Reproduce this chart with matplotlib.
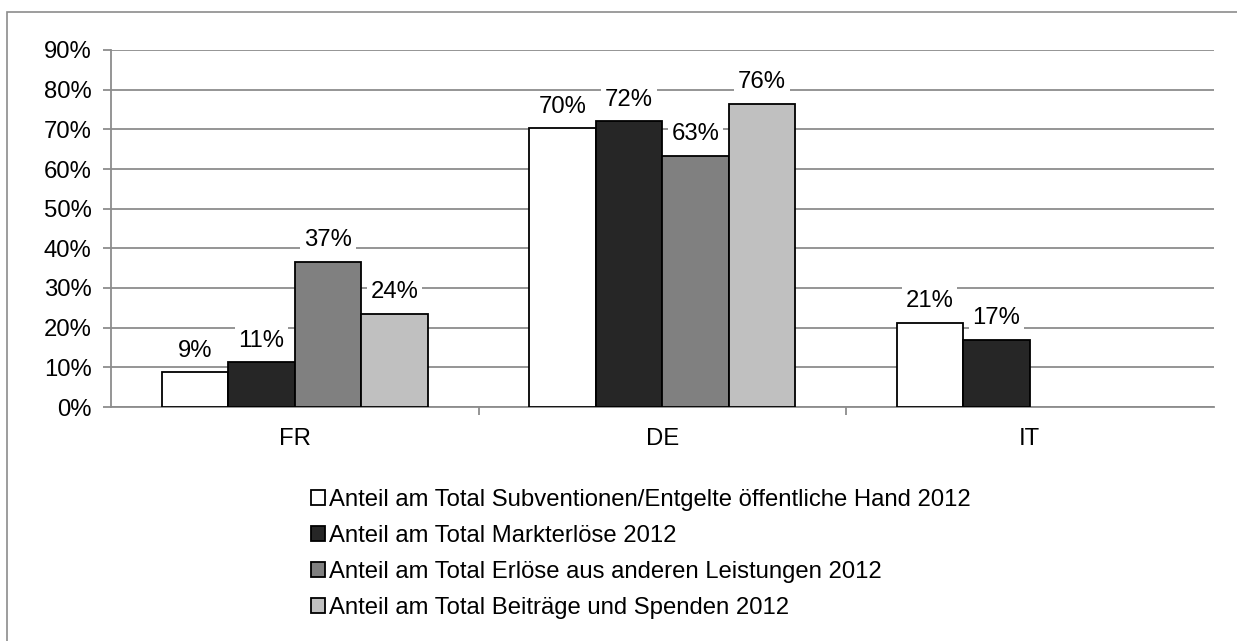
import numpy as np
import matplotlib
matplotlib.use("Agg")
import matplotlib.pyplot as plt
from matplotlib.patches import Rectangle

plt.rcParams['font.family'] = ['Liberation Sans', 'DejaVu Sans']

categories = ["FR", "DE", "IT"]
series_names = [
    "Anteil am Total Subventionen/Entgelte öffentliche Hand 2012",
    "Anteil am Total Markterlöse 2012",
    "Anteil am Total Erlöse aus anderen Leistungen 2012",
    "Anteil am Total Beiträge und Spenden 2012",
]
subventionen = [0.088, 0.703, 0.212]
markterloese = [0.113, 0.720, 0.169]
andere = [0.366, 0.634, np.nan]
beitraege = [0.235, 0.764, np.nan]
series_values = [subventionen, markterloese, andere, beitraege]
colors = ["#ffffff", "#262626", "#808080", "#c0c0c0"]
yticks = [0, 0.1, 0.2, 0.3, 0.4, 0.5, 0.6, 0.7, 0.8, 0.9]
ytick_labels = ["0%", "10%", "20%", "30%", "40%", "50%", "60%", "70%", "80%", "90%"]

W, H = 1237, 641
fig = plt.figure(figsize=(W / 100, H / 100), dpi=100)
ax = fig.add_axes([111 / W, 1 - 407 / H, (1213.5 - 111) / W, (407 - 50) / H])

FS = 17.2
grid_col = "#8c8c8c"
bw = 0.181
x = np.arange(len(categories))
handles = []
for i, (vals, col, name) in enumerate(zip(series_values, colors, series_names)):
    offs = (i - 1.5) * bw
    v = np.array(vals, dtype=float)
    mask = ~np.isnan(v)
    bars = ax.bar(x[mask] + offs, v[mask], width=bw, color=col, edgecolor="black",
                  linewidth=1.3, zorder=3, label=name)
    handles.append(bars)
    for xi, vi in zip(x[mask] + offs, v[mask]):
        ax.annotate(f"{round(vi * 100):.0f}%", (xi, vi), xytext=(0, 15.5),
                    textcoords="offset points", ha="center", va="center",
                    fontsize=FS, zorder=4,
                    bbox=dict(boxstyle="square,pad=0.15", fc="white", ec="none"))

ax.set_xlim(-0.5, 2.5)
ax.set_ylim(0, 0.9)
ax.set_yticks(yticks)
ax.set_yticklabels(ytick_labels, fontsize=FS)
ax.yaxis.grid(True, color=grid_col, linewidth=1.3, zorder=0)
ax.set_axisbelow(True)
ax.set_xticks(x)
ax.set_xticklabels(categories, fontsize=FS)
ax.tick_params(axis="x", length=0, pad=15)
ax.set_xticks([0.5, 1.5], minor=True)
ax.tick_params(axis="x", which="minor", length=6, color=grid_col, width=1.3)
ax.tick_params(axis="y", length=6, color=grid_col, width=1.3, pad=8)
for s in ["top", "right"]:
    ax.spines[s].set_visible(False)
for s in ["left", "bottom"]:
    ax.spines[s].set_color(grid_col)
    ax.spines[s].set_linewidth(1.3)

leg = fig.legend(handles=handles, loc="upper left", bbox_to_anchor=(311 / W, 1 - 489 / H),
                 ncol=1, frameon=False, fontsize=FS, handlelength=0.6, handleheight=0.6,
                 handletextpad=0.15, labelspacing=0.59, borderpad=0, borderaxespad=0)

fig.patches.append(Rectangle((7 / W, -0.1), 1.2, 1 - 12 / H + 0.1, transform=fig.transFigure,
                             fill=False, edgecolor="#8c8c8c", linewidth=1.2))

fig.savefig("out.png", dpi=100)
